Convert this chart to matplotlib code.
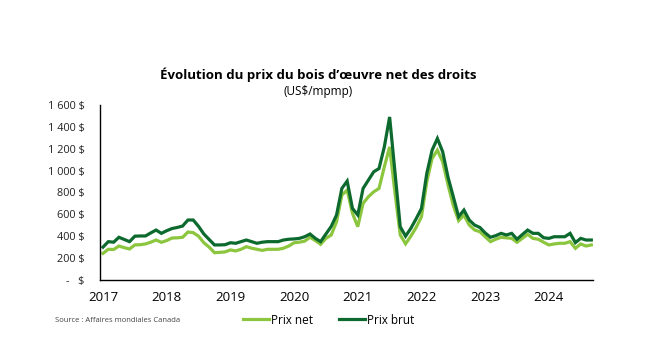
import numpy as np
import matplotlib
matplotlib.use("Agg")
import matplotlib.pyplot as plt

# monthly prices, Jan 2017 -> Sep 2024 (US$/mpmp)
prix_brut = [300, 350, 345, 390, 370, 350, 400, 402, 402, 430, 456, 426,
             450, 470, 480, 493, 548, 548, 490, 420, 370, 320, 320, 322,
             340, 335, 350, 365, 350, 335, 345, 350, 350, 350, 365, 372,
             375, 380, 395, 420, 380, 350, 420, 490, 594, 837, 904, 654,
             594, 837, 913, 989, 1019, 1217, 1491, 990, 487, 400, 472, 560,
             654, 974, 1187, 1294, 1172, 940, 760, 578, 639, 548, 502, 480,
             430, 390, 405, 426, 411, 426, 372, 415, 456, 426, 426, 386,
             380, 395, 395, 395, 426, 341, 380, 365, 365]
prix_net = [243, 280, 278, 310, 295, 283, 320, 322, 329, 345, 365, 344,
            360, 383, 385, 390, 438, 432, 400, 340, 300, 249, 252, 256,
            274, 265, 280, 304, 290, 280, 270, 280, 280, 280, 290, 310,
            340, 345, 355, 390, 360, 326, 380, 411, 532, 776, 822, 609,
            487, 700, 761, 806, 837, 1034, 1217, 800, 411, 330, 400, 480,
            578, 898, 1111, 1187, 1080, 870, 680, 542, 593, 502, 457, 441,
            395, 350, 372, 390, 385, 380, 344, 380, 417, 380, 372, 345,
            320, 329, 335, 335, 350, 289, 329, 310, 320]
annees = ['2017', '2018', '2019', '2020', '2021', '2022', '2023', '2024']
yticks = [0, 200, 400, 600, 800, 1000, 1200, 1400, 1600]
ytick_labels = ['-   $', '200 $', '400 $', '600 $', '800 $', '1 000 $',
                '1 200 $', '1 400 $', '1 600 $']

plt.rcParams['font.family'] = ['Open Sans', 'DejaVu Sans']

mois = np.arange(len(prix_net))
vert_clair = '#8cc63f'
vert_fonce = '#0d6a2e'

fig = plt.figure(figsize=(6.61, 3.49), dpi=100)
ax = fig.add_axes([0.151, 0.198, 0.746, 0.501])

ax.plot(mois, prix_net, color=vert_clair, lw=2.3, label='Prix net',
        solid_joinstyle='miter')
ax.plot(mois, prix_brut, color=vert_fonce, lw=2.3, label='Prix brut',
        solid_joinstyle='miter')

ax.set_xlim(-0.6, 92.3)
ax.set_ylim(0, 1600)
ax.set_xticks(np.arange(len(annees)) * 12)
ax.set_xticklabels(annees, fontsize=9.5)
ax.set_yticks(yticks)
ax.set_yticklabels(ytick_labels, fontsize=7.8, color='#222222')
ax.tick_params(axis='both', length=0)
ax.tick_params(axis='y', pad=11)
ax.tick_params(axis='x', pad=8)

for s in ['top', 'right']:
    ax.spines[s].set_visible(False)
for s in ['left', 'bottom']:
    ax.spines[s].set_linewidth(1.0)
    ax.spines[s].set_color('black')

fig.text(0.481, 0.785, "Évolution du prix du bois d’œuvre net des droits",
         ha='center', va='center', fontsize=9.5, fontweight='bold')
fig.text(0.481, 0.738, "(US$/mpmp)", ha='center', va='center', fontsize=8.5)

fig.text(0.083, 0.083, "Source : Affaires mondiales Canada",
         ha='left', va='center', fontsize=5.5, color='#444444')

fig.legend(loc='center', bbox_to_anchor=(0.497, 0.083), ncol=2,
           frameon=False, fontsize=8.5, handlelength=2.2, handletextpad=0.2,
           columnspacing=2.2)

fig.savefig('out.png', dpi=100)
